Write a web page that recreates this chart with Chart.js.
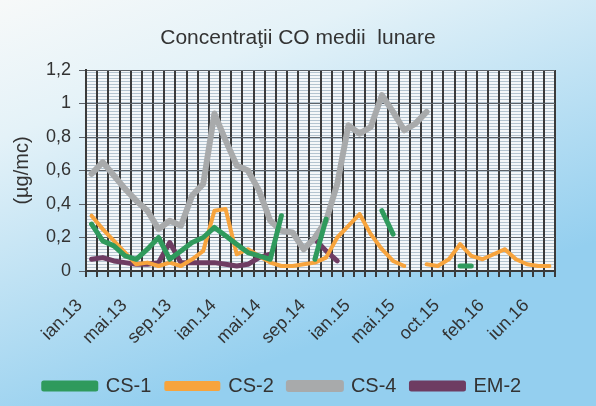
<!DOCTYPE html>
<html>
<head>
<meta charset="utf-8">
<script src="https://cdn.jsdelivr.net/npm/chart.js@4"></script>
<style>
  html, body { margin: 0; padding: 0; background: #cfe8f5; }
  #wrap { width: 596px; height: 406px; }
</style>
</head>
<body>
<div id="wrap"><canvas id="coChart" width="596" height="406"></canvas></div>
<script>
// monthly categories (one summer month of 2015 is missing in the source)
const months = ['ian.13','feb.13','mar.13','apr.13','mai.13','iun.13','iul.13','aug.13','sep.13','oct.13','nov.13','dec.13',
  'ian.14','feb.14','mar.14','apr.14','mai.14','iun.14','iul.14','aug.14','sep.14','oct.14','nov.14','dec.14',
  'ian.15','feb.15','mar.15','apr.15','mai.15','iun.15','iul.15','aug.15','oct.15','nov.15','dec.15',
  'ian.16','feb.16','mar.16','apr.16','mai.16','iun.16','iul.16'];

const cs1 = [0.28,0.18,0.15,0.09,0.07,0.13,0.2,0.07,0.12,0.17,0.2,0.26,0.21,0.16,0.11,0.09,0.07,0.33,null,null,
  0.07,0.31,null,null,null,null,0.36,0.22,null,null,null,null,null,0.03,0.03,null,null,null,null,null,null,null];
const cs2 = [0.33,0.25,0.18,0.11,0.04,0.05,0.03,0.05,0.03,0.07,0.12,0.36,0.37,0.1,0.13,0.09,0.05,0.03,0.03,0.04,
  0.05,0.08,0.2,0.27,0.34,0.22,0.13,0.06,0.03,null,0.04,0.03,0.07,0.16,0.09,0.07,0.1,0.13,0.07,0.04,0.03,0.03];
const cs4 = [0.58,0.65,0.57,0.49,0.42,0.36,0.25,0.3,0.27,0.45,0.52,0.94,0.78,0.63,0.6,0.48,0.3,0.24,0.23,0.13,
  0.2,0.3,0.52,0.87,0.82,0.86,1.05,0.95,0.84,0.88,0.95,null,null,null,null,null,null,null,null,null,null,null];
const em2 = [0.07,0.08,0.06,0.05,0.04,0.04,0.05,0.17,0.05,0.05,0.05,0.05,0.04,0.03,0.04,0.08,0.1,null,null,null,
  0.19,0.12,0.06,null,null,null,null,null,null,null,null,null,null,null,null,null,null,null,null,null,null,null];

const labelEvery = 4;
const yTicks = [0, 0.2, 0.4, 0.6, 0.8, 1, 1.2];
const chartTitle = 'Concentraţii CO medii  lunare';

const fontName = '"Liberation Sans", Arial, sans-serif';

// blue page background + hatched plot area, like the scanned excel chart.
// the title is drawn here too so it can sit centred on the whole picture
const backdrop = {
  id: 'backdrop',
  beforeDraw(chart) {
    const ctx = chart.ctx;
    const w = chart.width, h = chart.height;
    ctx.save();
    let g = ctx.createLinearGradient(0, 0, w * 0.25, h);
    g.addColorStop(0, '#f7f9f9');
    g.addColorStop(0.3, '#e4f2f8');
    g.addColorStop(1, '#94cfef');
    ctx.fillStyle = g;
    ctx.fillRect(0, 0, w, h);

    const p = document.createElement('canvas');
    p.width = 4; p.height = 3;
    const pc = p.getContext('2d');
    pc.fillStyle = '#f4f7f9';
    pc.fillRect(0, 0, 4, 3);
    pc.fillStyle = '#b4c4d0';
    pc.fillRect(0, 0, 4, 1);
    const a = chart.chartArea;
    ctx.fillStyle = ctx.createPattern(p, 'repeat');
    ctx.fillRect(a.left, a.top, a.right - a.left, a.bottom - a.top);

    ctx.fillStyle = '#333';
    ctx.font = '21px ' + fontName;
    ctx.textAlign = 'center';
    ctx.textBaseline = 'middle';
    ctx.fillText(chartTitle, w / 2, 38);
    ctx.restore();
  }
};

function mkSet(label, data, color, width) {
  return {
    label: label,
    data: data,
    borderColor: color,
    backgroundColor: color,
    borderWidth: width,
    pointRadius: 0,
    tension: 0,
    borderJoinStyle: 'round',
    borderCapStyle: 'round',
    spanGaps: false
  };
}

const datasets = [
  mkSet('CS-1', cs1, '#2f9a5c', 5),
  mkSet('CS-2', cs2, '#f7a43d', 4),
  mkSet('CS-4', cs4, '#a8aaab', 6),
  mkSet('EM-2', em2, '#6e3c62', 5)
];
datasets[1].pointRadius = 2;
datasets[1].pointStyle = 'rect';
datasets[1].pointBorderWidth = 0;

new Chart(document.getElementById('coChart'), {
  type: 'line',
  data: { labels: months, datasets: datasets },
  plugins: [backdrop],
  options: {
    responsive: false,
    animation: false,
    devicePixelRatio: 1,
    layout: { padding: { left: 10, right: 41, top: 70, bottom: 0 } },
    scales: {
      x: {
        offset: true,
        grid: { offset: true, color: '#3a3a3a', lineWidth: 2, tickLength: 6, drawTicks: true },
        border: { color: '#3a3a3a', width: 2 },
        ticks: {
          autoSkip: false,
          minRotation: 45,
          maxRotation: 45,
          padding: 18,
          labelOffset: -12,
          color: '#333',
          font: { family: fontName, size: 18 },
          callback: function(val, idx) {
            return idx % labelEvery === 0 ? months[idx] : '';
          }
        },
        afterFit: function(scale) { scale.height = 90; }
      },
      y: {
        min: 0,
        max: 1.2,
        afterBuildTicks: function(scale) {
          scale.ticks = yTicks.map(v => ({ value: v }));
        },
        grid: { color: '#5c6268', lineWidth: 1, tickLength: 7 },
        border: { color: '#3a3a3a', width: 2 },
        title: {
          display: true,
          text: '(µg/mc)',
          color: '#333',
          font: { family: fontName, size: 20 },
          padding: { top: 0, bottom: 2 }
        },
        ticks: {
          padding: 8,
          color: '#333',
          font: { family: fontName, size: 18 },
          callback: function(v) {
            return String(Number(v.toFixed(1))).replace('.', ',');
          }
        },
        afterFit: function(scale) { scale.width = 76; }
      }
    },
    plugins: {
      title: { display: false },
      legend: {
        position: 'bottom',
        labels: {
          boxWidth: 52,
          boxHeight: 6,
          padding: 15,
          color: '#333',
          font: { family: fontName, size: 20 }
        }
      },
      tooltip: { enabled: false }
    }
  }
});
</script>
</body>
</html>
